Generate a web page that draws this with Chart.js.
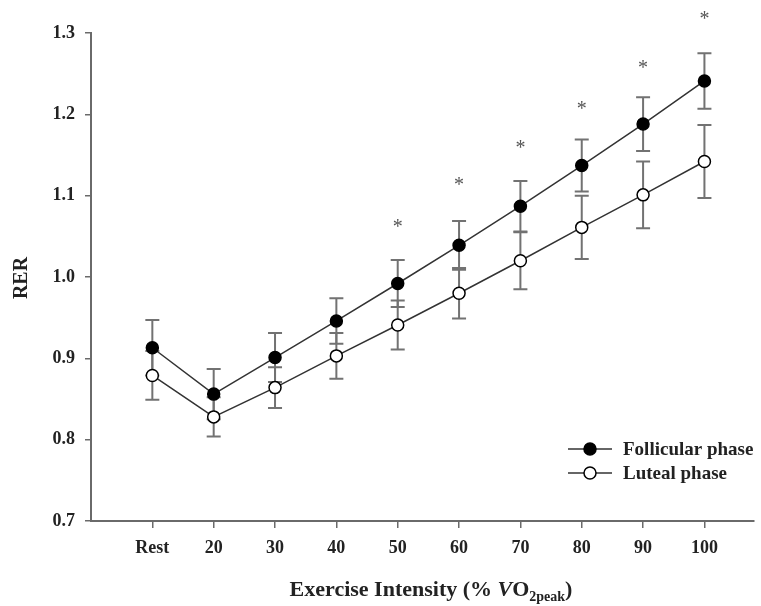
<!DOCTYPE html>
<html><head><meta charset="utf-8">
<script src="https://cdn.jsdelivr.net/npm/chart.js@4.4.0/dist/chart.umd.min.js"></script>
<style>html,body{margin:0;padding:0;background:#fff}canvas{display:block}</style>
</head><body>
<canvas id="c" width="761" height="606"></canvas>
<script>
// ---- data ----
const categories = ['Rest', '20', '30', '40', '50', '60', '70', '80', '90', '100'];
const follicular = [0.913, 0.856, 0.901, 0.946, 0.992, 1.039, 1.087, 1.137, 1.188, 1.241];
const follicularErr = [0.034, 0.031, 0.030, 0.028, 0.029, 0.030, 0.031, 0.032, 0.033, 0.034];
const luteal = [0.879, 0.828, 0.864, 0.903, 0.941, 0.980, 1.020, 1.061, 1.101, 1.142];
const lutealErr = [0.030, 0.024, 0.025, 0.028, 0.030, 0.031, 0.035, 0.039, 0.041, 0.045];
const significanceY = [null, null, null, null, 1.066, 1.118, 1.163, 1.211, 1.262, 1.322];
const yTicks = [0.7, 0.8, 0.9, 1.0, 1.1, 1.2, 1.3];
const seriesNames = ['Follicular phase', 'Luteal phase'];

const SERIF = '"Liberation Serif", "Times New Roman", serif';
const AXIS_GREY = '#6a6a6a';

const toPoints = vals => vals.map((v, i) => ({ x: i, y: v }));

const decorations = {
  id: 'decorations',
  beforeDatasetsDraw(chart) {
    const { ctx, scales: { x, y } } = chart;
    ctx.save();
    ctx.strokeStyle = '#727272';
    ctx.lineWidth = 2;
    [[follicular, follicularErr], [luteal, lutealErr]].forEach(([vals, errs]) => {
      vals.forEach((v, i) => {
        const px = x.getPixelForValue(i);
        const top = y.getPixelForValue(v + errs[i]);
        const bot = y.getPixelForValue(v - errs[i]);
        ctx.beginPath();
        ctx.moveTo(px, top); ctx.lineTo(px, bot);
        ctx.moveTo(px - 7, top); ctx.lineTo(px + 7, top);
        ctx.moveTo(px - 7, bot); ctx.lineTo(px + 7, bot);
        ctx.stroke();
      });
    });
    ctx.restore();
  },
  afterDraw(chart) {
    const { ctx, chartArea, scales: { x, y } } = chart;
    ctx.save();
    // significance asterisks
    ctx.fillStyle = '#555';
    ctx.font = '20px ' + SERIF;
    ctx.textAlign = 'center';
    ctx.textBaseline = 'alphabetic';
    const m = ctx.measureText('*');
    const off = (m.actualBoundingBoxAscent - m.actualBoundingBoxDescent) / 2;
    significanceY.forEach((v, i) => {
      if (v == null) return;
      ctx.fillText('*', x.getPixelForValue(i), y.getPixelForValue(v) + off);
    });

    // legend
    const legendX = 568, legendY = [449, 473];
    ctx.font = 'bold 19px ' + SERIF;
    ctx.textAlign = 'left';
    ctx.textBaseline = 'middle';
    seriesNames.forEach((name, k) => {
      const ly = legendY[k];
      ctx.strokeStyle = '#333';
      ctx.lineWidth = 1.5;
      ctx.beginPath(); ctx.moveTo(legendX, ly); ctx.lineTo(legendX + 44, ly); ctx.stroke();
      ctx.beginPath(); ctx.arc(legendX + 22, ly, 6, 0, Math.PI * 2);
      ctx.fillStyle = k === 0 ? '#000' : '#fff';
      ctx.fill();
      ctx.strokeStyle = '#000'; ctx.lineWidth = 1.5; ctx.stroke();
      ctx.fillStyle = '#222';
      ctx.fillText(name, legendX + 55, ly + 1);
    });

    // y title
    ctx.save();
    ctx.translate(22, (chartArea.top + chartArea.bottom) / 2 + 1);
    ctx.rotate(-Math.PI / 2);
    ctx.textAlign = 'center';
    ctx.textBaseline = 'middle';
    ctx.font = 'bold 20px ' + SERIF;
    ctx.fillStyle = '#222';
    ctx.fillText('RER', 0, 0);
    ctx.restore();

    // x title with subscript
    const parts = [
      { t: 'Exercise Intensity (% ', f: 'bold 22px ' + SERIF, dy: 0 },
      { t: 'V', f: 'italic bold 22px ' + SERIF, dy: 0 },
      { t: 'O', f: 'bold 22px ' + SERIF, dy: 0 },
      { t: '2peak', f: 'bold 14px ' + SERIF, dy: 5 },
      { t: ')', f: 'bold 22px ' + SERIF, dy: 0 }
    ];
    let total = 0;
    parts.forEach(p => { ctx.font = p.f; p.w = ctx.measureText(p.t).width; total += p.w; });
    let cx = 431 - total / 2;
    const base = 596;
    ctx.textAlign = 'left';
    ctx.textBaseline = 'alphabetic';
    ctx.fillStyle = '#222';
    parts.forEach(p => { ctx.font = p.f; ctx.fillText(p.t, cx, base + p.dy); cx += p.w; });
    ctx.restore();
  }
};

new Chart(document.getElementById('c'), {
  type: 'line',
  data: {
    datasets: [
      {
        label: seriesNames[0],
        data: toPoints(follicular),
        borderColor: '#333', borderWidth: 1.5,
        pointRadius: 6, pointBackgroundColor: '#000', pointBorderColor: '#000', pointBorderWidth: 1.5,
        tension: 0
      },
      {
        label: seriesNames[1],
        data: toPoints(luteal),
        borderColor: '#333', borderWidth: 1.5,
        pointRadius: 6, pointBackgroundColor: '#fff', pointBorderColor: '#000', pointBorderWidth: 1.5,
        tension: 0
      }
    ]
  },
  options: {
    responsive: false,
    animation: false,
    layout: { padding: { top: 33, right: 1, left: 0, bottom: 0 } },
    plugins: { legend: { display: false }, tooltip: { enabled: false } },
    scales: {
      x: {
        type: 'linear', min: -1, max: 9.8,
        afterBuildTicks: s => { s.ticks = categories.map((_, i) => ({ value: i })); },
        ticks: {
          callback: v => categories[v],
          autoSkip: false, maxRotation: 0, padding: 10,
          font: { family: SERIF, size: 18, weight: 'bold' }, color: '#222'
        },
        grid: { drawOnChartArea: false, drawTicks: true, tickLength: 7, color: AXIS_GREY, lineWidth: 1.5 },
        border: { display: true, color: AXIS_GREY, width: 2 },
        afterFit: s => { s.height = 85; }
      },
      y: {
        min: 0.7, max: 1.3,
        afterBuildTicks: s => { s.ticks = yTicks.map(v => ({ value: v })); },
        ticks: {
          callback: v => v.toFixed(1), padding: 10,
          font: { family: SERIF, size: 18, weight: 'bold' }, color: '#222'
        },
        grid: { drawOnChartArea: false, drawTicks: true, tickLength: 6, color: AXIS_GREY, lineWidth: 1.5 },
        border: { display: true, color: AXIS_GREY, width: 2 },
        afterFit: s => { s.width = 91; }
      }
    }
  },
  plugins: [decorations]
});
</script>
</body></html>
